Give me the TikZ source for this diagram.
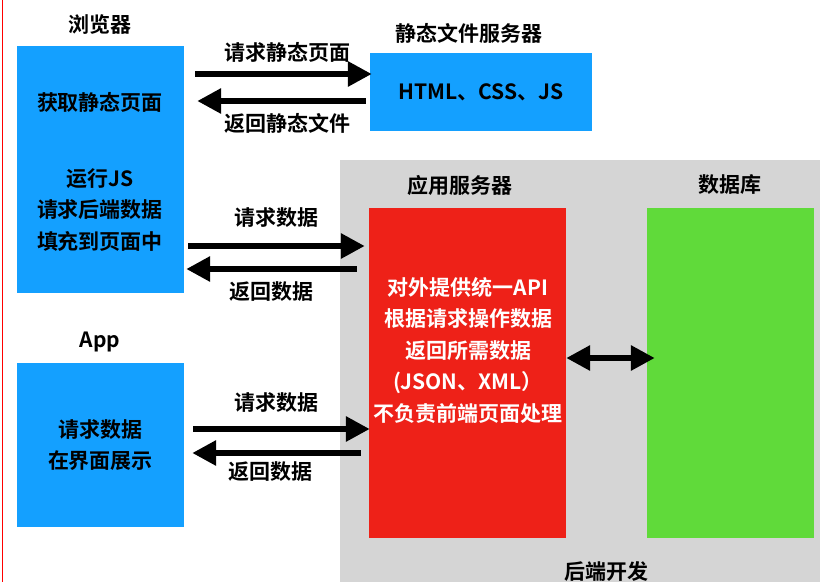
\documentclass[tikz,border=0pt]{standalone}
\usepackage{fontspec}
\setmainfont{Noto Sans CJK SC}[BoldFont={Noto Sans CJK SC Bold}]
\usetikzlibrary{arrows.meta}
\definecolor{boxblue}{RGB}{20,160,255}
\definecolor{srvred}{RGB}{238,33,24}
\definecolor{dbgreen}{RGB}{96,218,58}
\definecolor{backgray}{RGB}{213,213,213}
\tikzset{
  txt/.style={font=\fontsize{21pt}{31.5pt}\selectfont\bfseries, inner sep=0pt, align=center},
  block/.style={inner sep=0pt, draw=none},
  bigarrow/.style={line width=6.5pt, -{Triangle[length=24pt,width=24pt]}},
}
\begin{document}
\begin{tikzpicture}[x=1pt,y=-1pt]
        \useasboundingbox (0,0) rectangle (820,582);

        % 后端区域
        \fill[backgray] (340,160) rectangle (820,582);
        \draw[red, line width=1pt] (2.5,0) -- (2.5,582);

        % 方框
        \node[block, fill=boxblue, minimum width=167pt, minimum height=247pt] (browser) at (100.5,169.5) {};
        \node[block, fill=boxblue, minimum width=222pt, minimum height=78pt, txt] (static) at (481,92) {HTML、CSS、JS};
        \node[block, fill=srvred, minimum width=197pt, minimum height=330pt] (appsrv) at (467.5,373) {};
        \node[block, fill=dbgreen, minimum width=167pt, minimum height=330pt] (db) at (730.5,373) {};
        \node[block, fill=boxblue, minimum width=167pt, minimum height=164pt, txt] (app) at (100.5,445) {请求数据\\在界面展示};

        % 标题
        \node[txt] (tbrowser) at (100,25) {浏览器};
        \node[txt] (tstatic) at (469,33) {静态文件服务器};
        \node[txt] (tappsrv) at (460,185) {应用服务器};
        \node[txt] (tdb) at (730,185) {数据库};
        \node[txt] (tapp) at (100,342) {App};
        \node[txt] (tback) at (606,571) {后端开发};

        % 框内文字
        \node[txt] (bstatic) at (100,102) {获取静态页面};
        \node[txt] (bjs) at (100,210) {运行JS\\请求后端数据\\填充到页面中};
        \node[txt, text=white] (srvtxt) at (468,350) {对外提供统一API\\根据请求操作数据\\返回所需数据\\(JSON、XML）\\不负责前端页面处理};

        % 浏览器 - 静态文件服务器
        \draw[bigarrow] ([xshift=11pt,yshift=18pt]browser.east |- static.west) -- ([xshift=2pt,yshift=18pt]static.west);
        \draw[bigarrow] ([xshift=-4pt,yshift=-9pt]static.west) -- ([xshift=13pt,yshift=-9pt]browser.east |- static.west);
        \node[txt] (lreqstatic) at (287,52) {请求静态页面};
        \node[txt] (lretstatic) at (287,123) {返回静态文件};

        % 浏览器 - 应用服务器
        \draw[bigarrow] ([xshift=4pt,yshift=127pt]browser.east |- appsrv.west) -- ([xshift=-4pt,yshift=127pt]appsrv.west);
        \draw[bigarrow] ([xshift=-12pt,yshift=104pt]appsrv.west) -- ([xshift=2pt,yshift=104pt]browser.east |- appsrv.west);
        \node[txt] (lreqdata) at (276,218) {请求数据};
        \node[txt] (lretdata) at (271,292) {返回数据};

        % App - 应用服务器
        \draw[bigarrow] ([xshift=9pt,yshift=16pt]app.east) -- ([xshift=1pt,yshift=16pt]appsrv.west |- app.east);
        \draw[bigarrow] ([xshift=-8pt,yshift=-8pt]appsrv.west |- app.east) -- ([xshift=8pt,yshift=-8pt]app.east);
        \node[txt] (lreqapp) at (276,403) {请求数据};
        \node[txt] (lretapp) at (270,472) {返回数据};

        % 应用服务器 - 数据库
        \draw[bigarrow, {Triangle[length=24pt,width=24pt]}-{Triangle[length=24pt,width=24pt]}] ([yshift=15pt]appsrv.east) -- ([xshift=8pt,yshift=15pt]db.west);
    \end{tikzpicture}
\end{document}
